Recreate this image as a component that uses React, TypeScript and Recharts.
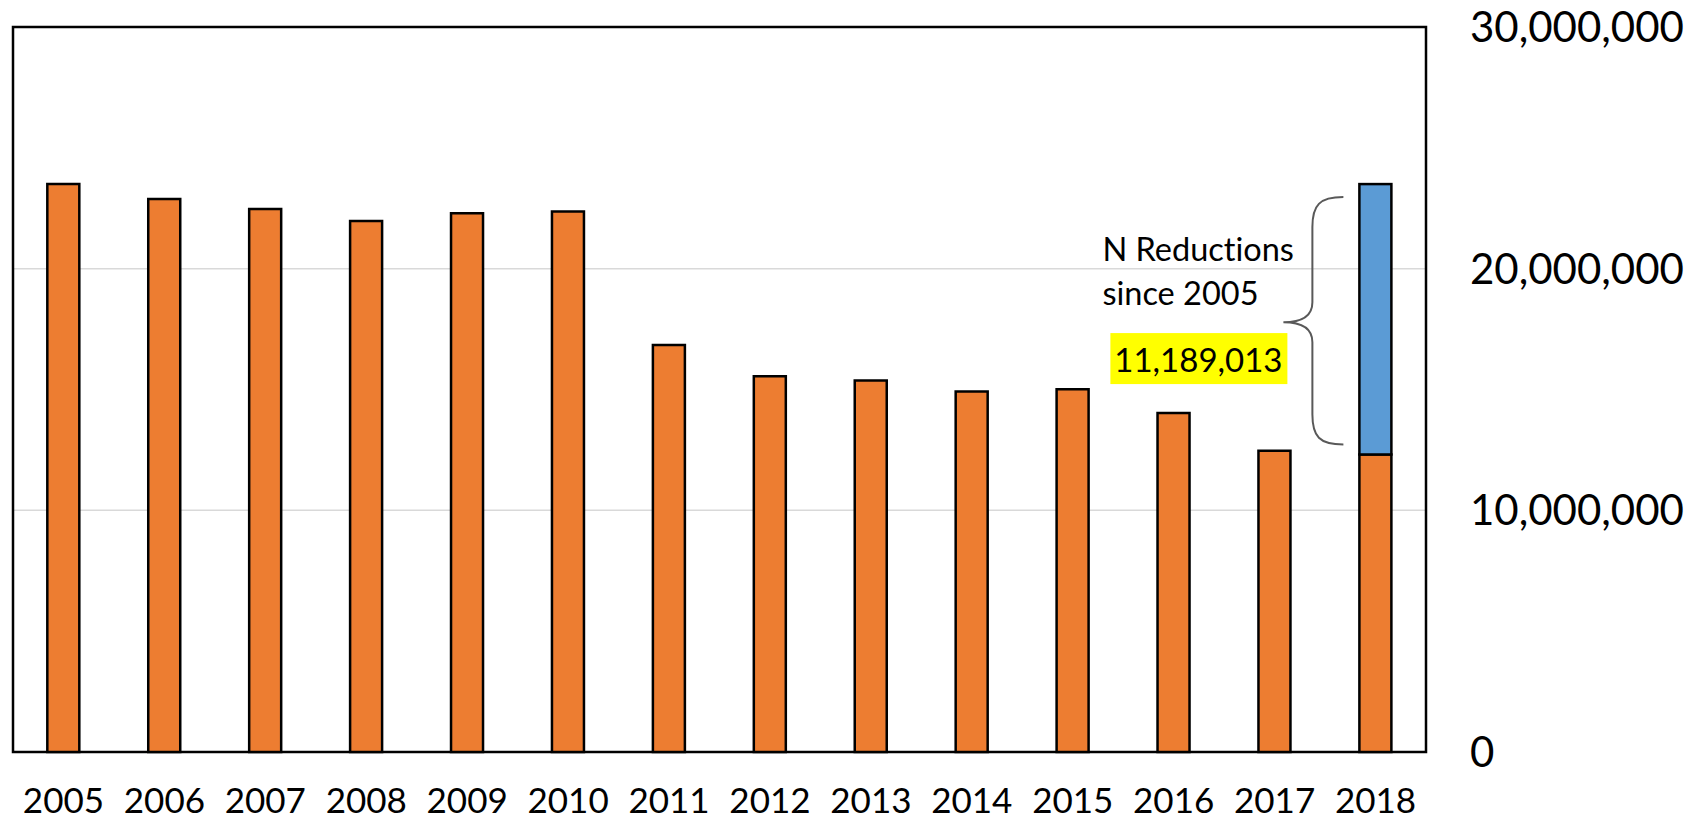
import React from "react"
import { Bar, BarChart, CartesianGrid, ReferenceArea, XAxis, YAxis } from "recharts"

const years = ["2005", "2006", "2007", "2008", "2009", "2010", "2011", "2012", "2013", "2014", "2015", "2016", "2017", "2018"]
const remaining = [
  23500000, 22880000, 22470000, 21970000, 22290000, 22370000, 16840000, 15550000, 15370000, 14920000, 15010000,
  14030000, 12470000, 12310987,
]
const reductions = [null, null, null, null, null, null, null, null, null, null, null, null, null, 11189013]
const yTicks = [0, 10000000, 20000000, 30000000]
const reductionLabel = ["N Reductions", "since 2005"]

const data = years.map((year, i) => ({ year, remaining: remaining[i], reductions: reductions[i] }))

const font = "Lato, 'Open Sans', sans-serif"
const noLig = { fontVariantLigatures: "none" as const, fontFeatureSettings: "'liga' 0" }

function ReductionBar(props: any) {
  const { x, y, width, height, fill } = props
  if (!height || height <= 0) return null
  const top = y + 13
  const bot = y + height - 10
  const mid = y + height / 2 + 3
  const bx = x - 47
  const brace =
    `M ${x - 16} ${top} C ${bx + 7} ${top} ${bx} ${top + 8} ${bx} ${top + 30} ` +
    `L ${bx} ${mid - 20} C ${bx} ${mid - 5} ${bx - 13} ${mid} ${bx - 29} ${mid} ` +
    `C ${bx - 13} ${mid} ${bx} ${mid + 5} ${bx} ${mid + 20} ` +
    `L ${bx} ${bot - 30} C ${bx} ${bot - 8} ${bx + 7} ${bot} ${x - 16} ${bot}`
  return (
    <g>
      <rect x={x} y={y} width={width} height={height} fill={fill} stroke="#000" strokeWidth={2.5} />
      <path d={brace} fill="none" stroke="#595959" strokeWidth={2} />
      <text x={x - 257} y={y + 77} fontSize={32.5} fontFamily={font} fill="#000" style={noLig}>
        {reductionLabel[0]}
      </text>
      <text x={x - 257} y={y + 121} fontSize={32.5} fontFamily={font} fill="#000" style={noLig}>
        {reductionLabel[1]}
      </text>
      <rect x={x - 249} y={y + 149} width={177} height={51} fill="#FFFF00" />
      <text x={x - 161} y={y + 188} fontSize={33} fontFamily={font} fill="#000" textAnchor="middle">
        {reductions[reductions.length - 1]!.toLocaleString("en-US")}
      </text>
    </g>
  )
}

export default function App() {
  return (
    <div style={{ position: "absolute", left: 0, top: 0, width: 1689, height: 822, background: "#fff" }}>
      <BarChart
        width={1689}
        height={822}
        data={data}
        margin={{ top: 27, right: 0, bottom: 0, left: 13 }}
        barCategoryGap="34%"
      >
        <CartesianGrid vertical={false} stroke="#D9D9D9" strokeWidth={1.5} />
        <XAxis
          dataKey="year"
          height={70}
          tickLine={false}
          axisLine={false}
          tickSize={0}
          tickMargin={36}
          tick={{ fontSize: 35, fontFamily: font, fill: "#000" }}
          interval={0}
        />
        <YAxis
          orientation="right"
          width={263}
          domain={[0, 30000000]}
          ticks={yTicks}
          tickLine={false}
          axisLine={false}
          tickSize={0}
          tickMargin={44}
          tick={{ fontSize: 42, fontFamily: font, fill: "#000" }}
          tickFormatter={(v: number) => v.toLocaleString("en-US")}
        />
        <Bar dataKey="remaining" stackId="a" fill="#ED7D31" stroke="#000" strokeWidth={2.5} isAnimationActive={false} />
        <Bar
          dataKey="reductions"
          stackId="a"
          fill="#5B9BD5"
          shape={ReductionBar}
          isAnimationActive={false}
        />
        <ReferenceArea y1={0} y2={30000000} fill="none" stroke="#000" strokeWidth={2.5} ifOverflow="visible" />
      </BarChart>
    </div>
  )
}
